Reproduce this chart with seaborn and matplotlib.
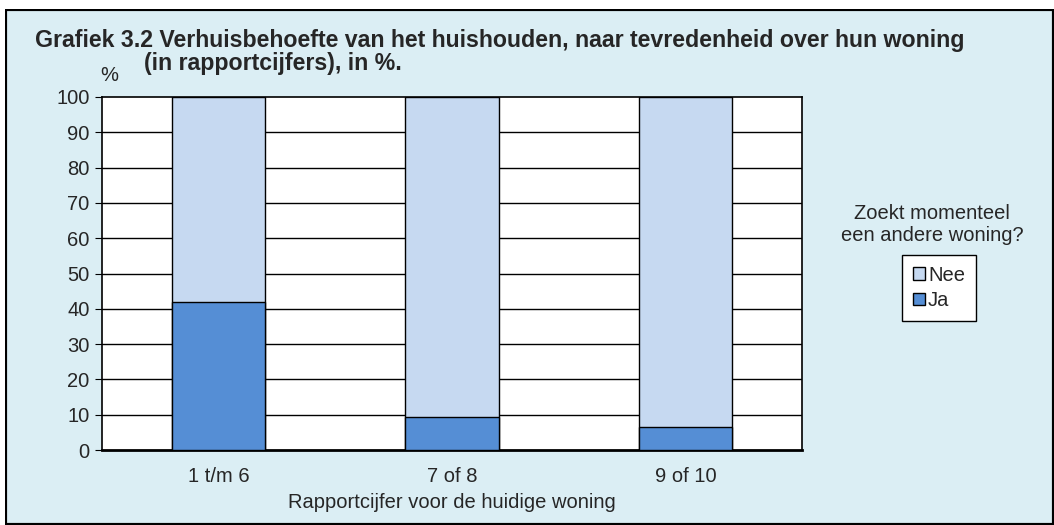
import pandas as pd
import matplotlib.pyplot as plt
import seaborn as sns
from matplotlib.patches import Rectangle, Patch

# Données
categories = ["1 t/m 6", "7 of 8", "9 of 10"]
ja = [42.0, 9.3, 6.4]
nee = [58.0, 90.7, 93.6]

df = pd.DataFrame({"cat": categories, "ja": ja, "nee": nee})
df["totaal"] = df["ja"] + df["nee"]

col_ja = "#558ED5"
col_nee = "#C6D9F1"
bg = "#DBEEF4"

sns.set_style("white")
plt.rcParams["font.family"] = ["Liberation Sans", "DejaVu Sans"]

fig = plt.figure(figsize=(10.54, 5.25), dpi=100, facecolor=bg)
ax = fig.add_axes([102 / 1054, 1 - 450 / 525, 700 / 1054, 353 / 525])
ax.set_facecolor("white")

# Barres empilées : d'abord le total (Nee), puis Ja par-dessus
sns.barplot(data=df, x="cat", y="totaal", color=col_nee, width=0.4, saturation=1,
            edgecolor="black", linewidth=1, ax=ax, zorder=3)
sns.barplot(data=df, x="cat", y="ja", color=col_ja, width=0.4, saturation=1,
            edgecolor="black", linewidth=1, ax=ax, zorder=4)

ax.set_ylim(0, 100)
ax.set_xlim(-0.5, 2.5)
ax.set_yticks(range(0, 101, 10))
ax.set_yticklabels([str(v) for v in range(0, 101, 10)], fontsize=14.5)
ax.set_xticks([0, 1, 2])
ax.set_xticklabels(categories, fontsize=14.5)
ax.set_xticks([-0.5, 0.5, 1.5, 2.5], minor=True)
ax.tick_params(axis="x", which="major", length=0, pad=12)
ax.tick_params(axis="x", which="minor", length=5, color="#555555", direction="out")
ax.tick_params(axis="y", length=5, color="black", direction="out", left=True, pad=4)
ax.set_xlabel("Rapportcijfer voor de huidige woning", fontsize=14.5, labelpad=5)
ax.set_ylabel("")

# Lignes de grille horizontales
for v in range(10, 100, 10):
    ax.axhline(v, color="black", lw=1, zorder=1)

for s in ax.spines.values():
    s.set_visible(True)
    s.set_color("black")
    s.set_linewidth(1.2)
ax.spines["bottom"].set_linewidth(2)

ax.text(0.011, 1.035, "%", transform=ax.transAxes, fontsize=14.5, ha="center", va="bottom")

# Titre
fig.text(35 / 1054, 1 - 47 / 525,
         "Grafiek 3.2 Verhuisbehoefte van het huishouden, naar tevredenheid over hun woning",
         fontsize=16.7, fontweight="bold", ha="left", va="baseline")
fig.text(144 / 1054, 1 - 70 / 525, "(in rapportcijfers), in %.",
         fontsize=16.7, fontweight="bold", ha="left", va="baseline")

# Légende
fig.text(932 / 1054, 1 - 224 / 525, "Zoekt momenteel\neen andere woning?",
         fontsize=14.5, ha="center", va="center", linespacing=1.2)
handles = [Patch(facecolor=col_nee, edgecolor="black", label="Nee"),
           Patch(facecolor=col_ja, edgecolor="black", label="Ja")]
leg = fig.legend(handles=handles, loc="center", bbox_to_anchor=(939 / 1054, 1 - 288 / 525),
                 fontsize=14.5, frameon=True, fancybox=False, edgecolor="black",
                 handlelength=0.6, handleheight=0.6, handletextpad=0.15,
                 borderpad=0.55, labelspacing=0.3, framealpha=1)
leg.get_frame().set_linewidth(1)

# Cadre de la figure
fig.patches.append(Rectangle((5 / 1054, 0), 1 - 5 / 1054, 1 - 9 / 525,
                             transform=fig.transFigure, fill=False,
                             edgecolor="black", linewidth=3))
fig.patches.append(Rectangle((0, 1 - 9 / 525), 1, 9 / 525, transform=fig.transFigure,
                             facecolor="white", edgecolor="none"))
fig.patches.append(Rectangle((0, 0), 5 / 1054, 1, transform=fig.transFigure,
                             facecolor="white", edgecolor="none"))

fig.savefig("out.png", dpi=100, facecolor=bg)
